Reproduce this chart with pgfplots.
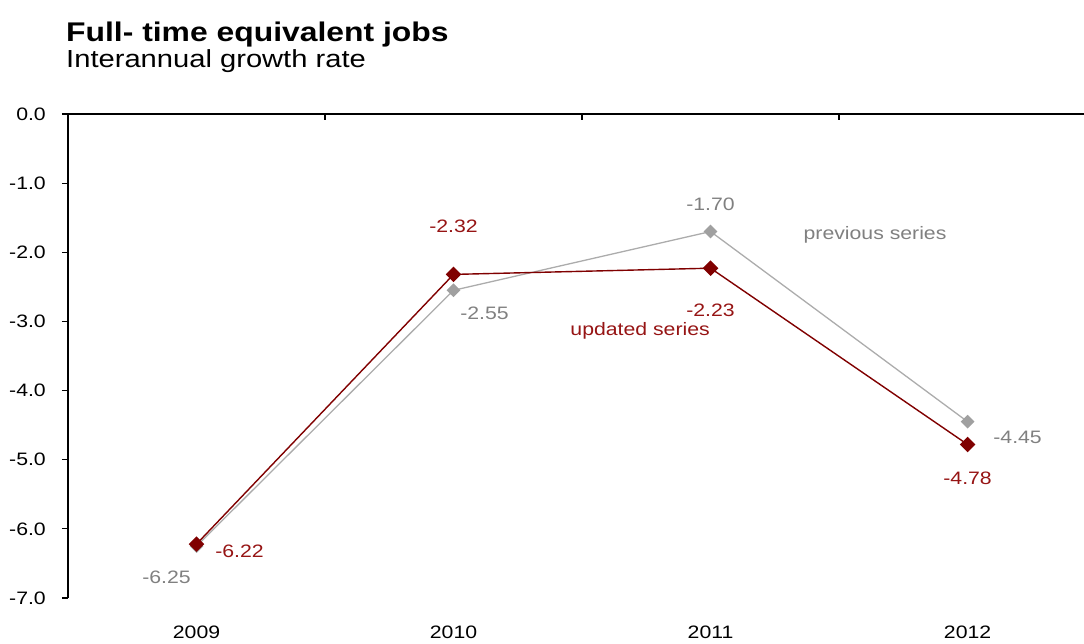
\documentclass[border=0pt]{standalone}
\usepackage{pgfplots}
\pgfplotsset{compat=1.18}
\usepackage{pgfplotstable}
\usepackage{fontspec}
\setmainfont{Liberation Sans}[FakeStretch=1.18]
\definecolor{prevline}{RGB}{172,172,172}
\definecolor{prevmark}{RGB}{160,160,160}
\definecolor{prevtext}{RGB}{128,128,128}
\definecolor{updline}{RGB}{128,0,0}
\definecolor{updtext}{RGB}{150,20,20}

\pgfplotstableread{
x y dx dy
0 -6.25 -30 -31
1 -2.55 31 -23
2 -1.70 0 27
3 -4.45 50 -16
}\prevtab
\pgfplotstableread{
x y dx dy
0 -6.22 43 -7
1 -2.32 0 48
2 -2.23 0 -42
3 -4.78 0 -34
}\updtab

\begin{document}
\begin{tikzpicture}[x=1pt,y=1pt,font=\fontsize{18pt}{22pt}\selectfont]
\useasboundingbox (0pt,0pt) rectangle (1084pt,643pt);
\node[anchor=base west, inner sep=0pt, font=\fontsize{27pt}{31pt}\selectfont\bfseries] at (66pt,601pt) {Full- time equivalent jobs};
\node[anchor=base west, inner sep=0pt, font=\fontsize{24.7pt}{28pt}\selectfont] at (66pt,575pt) {Interannual growth rate};

\begin{axis}[at={(68pt,45pt)}, anchor=south west, scale only axis,
  width=1016pt, height=484pt,
  xmin=-0.5, xmax=3.453, ymin=-7, ymax=0,
  axis x line*=top, axis y line=none,
  axis line style={-, line width=1.4pt, black},
  xtick={0.5,1.5,2.5}, xticklabels={},
  tick align=inside, major tick length=6pt,
  xtick style={line width=1.2pt, black}]
\end{axis}

\begin{axis}[at={(68pt,45pt)}, anchor=south west, scale only axis,
  width=1016pt, height=484pt,
  xmin=-0.5, xmax=3.453, ymin=-7, ymax=0, clip=false,
  axis x line*=bottom, axis y line*=left,
  axis line style={-},
  x axis line style={draw=none},
  y axis line style={line width=1.4pt, black},
  xtick={0,1,2,3}, xticklabels={2009,2010,2011,2012},
  xtick style={draw=none},
  xticklabel style={inner sep=0pt, yshift=-22pt, anchor=north},
  ytick={-7,-6,-5,-4,-3,-2,-1,0},
  ytick style={line width=1.2pt, black},
  tick align=outside, major tick length=6pt,
  /pgf/number format/assume math mode=true,
  yticklabel={\pgfmathprintnumber[fixed,fixed zerofill,precision=1]{\tick}},
  yticklabel style={inner sep=0pt, xshift=-16pt, anchor=east},
  nodes near coords={\pgfmathprintnumber[fixed,fixed zerofill,precision=2]{\pgfplotspointmeta}},
  visualization depends on={\thisrow{dx}\as\dx},
  visualization depends on={\thisrow{dy}\as\dy},
  every node near coord/.append style={anchor=center, inner sep=0pt, xshift=\dx pt, yshift=\dy pt},
]
\addplot[prevline, line width=1.3pt, mark=square*, mark size=4.2pt,
  mark options={rotate=45, fill=prevmark, draw=prevmark},
  point meta=\thisrow{y},
  every node near coord/.append style={text=prevtext}]
  table[x=x, y=y] {\prevtab};
\addplot[updline, line width=1.4pt, mark=square*, mark size=4.8pt,
  mark options={rotate=45, fill=updline, draw=updline},
  point meta=\thisrow{y},
  every node near coord/.append style={text=updtext}]
  table[x=x, y=y] {\updtab};
\node[text=prevtext, inner sep=0pt] at (axis cs:2.640,-1.75) {previous series};
\node[text=updtext, inner sep=0pt] at (axis cs:1.726,-3.14) {updated series};
\end{axis}
\end{tikzpicture}
\end{document}
